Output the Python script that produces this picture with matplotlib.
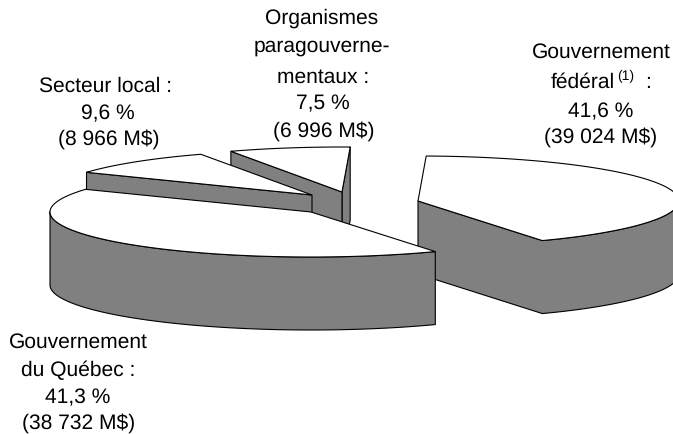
import numpy as np
import matplotlib
matplotlib.use("Agg")
import matplotlib.pyplot as plt
from matplotlib.patches import Polygon

plt.rcParams['font.family'] = ['Liberation Sans', 'DejaVu Sans']
plt.rcParams['text.hinting'] = 'no_hinting'
plt.rcParams['text.hinting_factor'] = 1

# Data
categories = ["Gouvernement fédéral", "Gouvernement du Québec", "Secteur local", "Organismes paragouvernementaux"]
shares = [41.6, 41.3, 9.6, 7.5]
amounts = ["39 024", "38 732", "8 966", "6 996"]

# Layout (pixels)
W, H = 673, 434
START_ANGLE = 88.2
RX, RY, DEPTH = 261, 45, 73
APEX = [(418, 201), (311, 212), (312, 195), (342, 192)]
DRAW_ORDER = [3, 2, 0, 1]
LINE_W = 0.8
WALL = "#808080"

fig = plt.figure(figsize=(W / 100, H / 100), dpi=100)
ax = fig.add_axes([0, 0, 1, 1])
ax.set_xlim(0, W)
ax.set_ylim(H, 0)
ax.axis("off")

# angles go clockwise from the start angle
ends = START_ANGLE - np.cumsum(shares) * 3.6
starts = np.r_[START_ANGLE, ends[:-1]]


def draw_slice(i):
    cx, cy = APEX[i]
    t = np.radians(np.linspace(ends[i], starts[i], 200))  # counter-clockwise
    ax_x = cx + RX * np.cos(t)
    ax_y = RY * np.sin(t)  # y up, relative to the apex
    bx = np.r_[cx, ax_x, cx]
    by = np.r_[0, ax_y, 0]
    front = np.diff(bx) > 0
    walls = []
    run = None
    for k, f in enumerate(front):
        if f:
            if run is None:
                run = [k]
            run.append(k + 1)
        elif run is not None:
            walls.append(run)
            run = None
    if run is not None:
        walls.append(run)
    walls.sort(key=lambda r: by[r].mean(), reverse=True)
    for r in walls:
        xs, ys = bx[r], cy - by[r]
        pts = np.c_[np.r_[xs, xs[::-1]], np.r_[ys, ys[::-1] + DEPTH]]
        ax.add_patch(Polygon(pts, closed=True, fc=WALL, ec="black", lw=LINE_W, joinstyle="round"))
    ax.add_patch(Polygon(np.c_[bx[:-1], cy - by[:-1]], closed=True, fc="white", ec="black",
                         lw=LINE_W, joinstyle="miter"))


for i in DRAW_ORDER:
    draw_slice(i)

FS = 14.8


def pct(i):
    return f"{shares[i]:.1f} %".replace(".", ",")


def money(i):
    return f"({amounts[i]} M$)"


def txt(x, y, s):
    ax.text(x, y, s, ha="center", va="baseline", fontsize=FS, color="black")


for x, y, s in zip([322, 322, 323, 323, 323.5], [24, 52, 83, 109, 137],
                   ["Organismes", "paragouverne-", "mentaux :", pct(3), money(3)]):
    txt(x, y, s)
for x, y, s in zip([105.5, 108, 108.5], [92, 119, 145], ["Secteur local :", pct(2), money(2)]):
    txt(x, y, s)
for y, s in zip([58, 117, 143], ["Gouvernement", pct(0), money(0)]):
    txt(601, y, s)
ax.text(551, 88, "fédéral", ha="left", va="baseline", fontsize=FS)
ax.text(617, 80, "(1)", ha="left", va="baseline", fontsize=9.8)
ax.text(645, 88, ":", ha="left", va="baseline", fontsize=FS)
for x, y, s in zip([78, 78, 78, 79], [348, 376, 403, 429], ["Gouvernement", "du Québec :", pct(1), money(1)]):
    txt(x, y, s)

fig.savefig("out.png", dpi=100)
